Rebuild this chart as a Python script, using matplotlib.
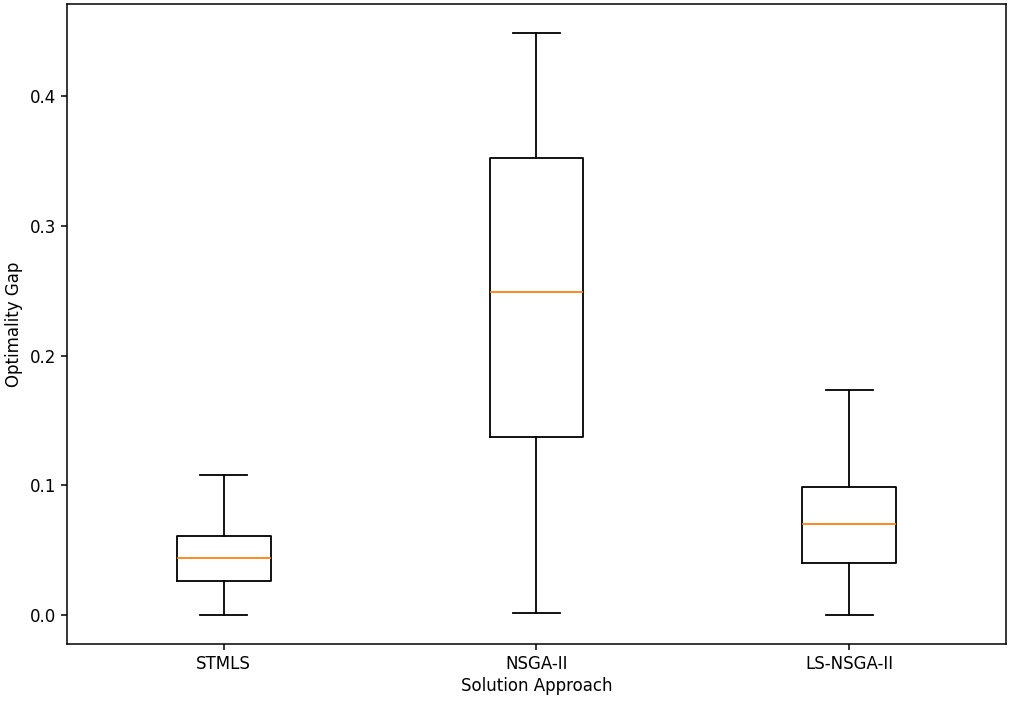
import matplotlib
matplotlib.use('Agg')
import matplotlib.pyplot as plt


approaches = ['STMLS', 'NSGA-II', 'LS-NSGA-II']
whislo = [0.0, 0.0013, 0.0]
q1 = [0.026, 0.137, 0.0404]
med = [0.0443, 0.2488, 0.0702]
q3 = [0.0609, 0.352, 0.0987]
whishi = [0.1077, 0.4485, 0.1735]


def plot():
    # the reference looks like a slightly upscaled default figure
    plt.rcParams['font.size'] = 12
    plt.rcParams['axes.linewidth'] = 1.1
    plt.rcParams['xtick.major.size'] = 4.5
    plt.rcParams['ytick.major.size'] = 4.5
    plt.rcParams['xtick.major.width'] = 1.1
    plt.rcParams['ytick.major.width'] = 1.1
    for part in ['boxprops', 'whiskerprops', 'capprops', 'medianprops']:
        plt.rcParams['boxplot.' + part + '.linewidth'] = 1.3

    fig = plt.figure(figsize=(10.17, 7.04), dpi=100)
    ax = fig.add_axes([0.066, 0.085, 0.923, 0.909])

    stats = []
    for i, name in enumerate(approaches):
        stats.append({'label': name, 'whislo': whislo[i], 'q1': q1[i],
                      'med': med[i], 'q3': q3[i], 'whishi': whishi[i],
                      'fliers': []})
    ax.bxp(stats, showfliers=False)

    ax.set_xlabel('Solution Approach', labelpad=3)
    ax.set_ylabel('Optimality Gap', labelpad=5)
    ax.set_yticks([0.0, 0.1, 0.2, 0.3, 0.4])

    plt.savefig('out.png')


if __name__ == '__main__':
    plot()
